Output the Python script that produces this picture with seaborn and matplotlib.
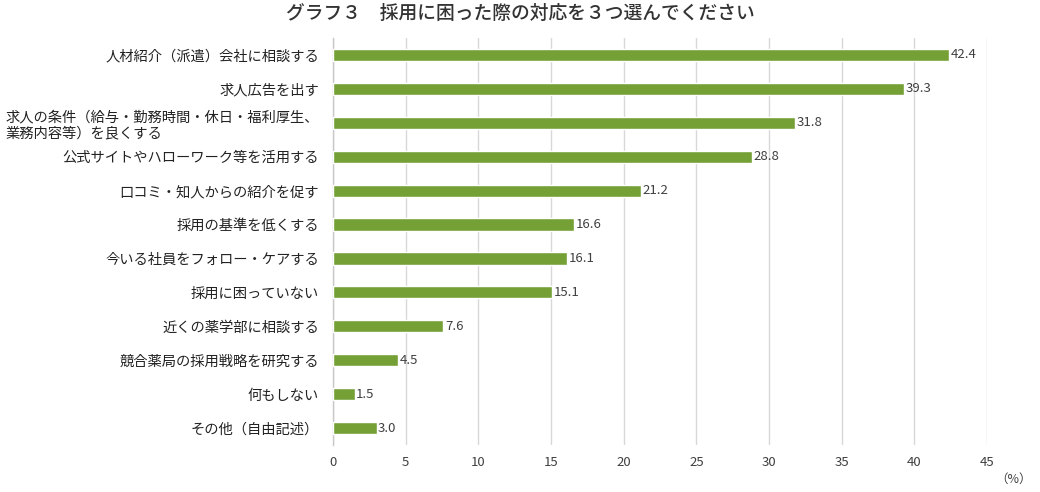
import matplotlib
matplotlib.use("Agg")
import matplotlib.pyplot as plt
import seaborn as sns
import pandas as pd

categories = [
    "人材紹介（派遣）会社に相談する",
    "求人広告を出す",
    "求人の条件（給与・勤務時間・休日・福利厚生、\n業務内容等）を良くする",
    "公式サイトやハローワーク等を活用する",
    "口コミ・知人からの紹介を促す",
    "採用の基準を低くする",
    "今いる社員をフォロー・ケアする",
    "採用に困っていない",
    "近くの薬学部に相談する",
    "競合薬局の採用戦略を研究する",
    "何もしない",
    "その他（自由記述）",
]
values = [42.4, 39.3, 31.8, 28.8, 21.2, 16.6, 16.1, 15.1, 7.6, 4.5, 1.5, 3.0]
value_labels = ["42.4", "39.3", "31.8", "28.8", "21.2", "16.6", "16.1", "15.1", "7.6", "4.5", "1.5", "3.0"]
xticks = [0, 5, 10, 15, 20, 25, 30, 35, 40, 45]
title = "グラフ３　採用に困った際の対応を３つ選んでください"

sns.set_theme(style="white")
plt.rcParams["font.family"] = ["Noto Sans CJK JP", "DejaVu Sans"]

df = pd.DataFrame({"cat": categories, "val": values})

fig = plt.figure(figsize=(10.4, 4.92), dpi=100)
ax = fig.add_axes([0.3202, 0.0955, 0.6288, 0.8273])

sns.barplot(data=df, y="cat", x="val", orient="h", color="#74a035",
            saturation=1, width=0.36, ax=ax, zorder=3)

ax.set_xlim(0, 45)
ax.set_ylim(len(categories) - 0.5, -0.5)
ax.set_xticks(xticks)
ax.set_xticklabels([str(t) for t in xticks], fontsize=9.5, color="#404040")
ax.xaxis.grid(True, color="#d8d8d8", linewidth=1, zorder=0)
ax.yaxis.grid(False)
for s in ["top", "right", "bottom"]:
    ax.spines[s].set_visible(False)
ax.spines["left"].set_color("#c8c8c8")
ax.spines["left"].set_linewidth(1)
ax.set_xlabel("")
ax.set_ylabel("")
ax.tick_params(axis="y", length=0, pad=10, labelsize=10.3, labelcolor="#222222")
ax.tick_params(axis="x", length=0, pad=8)
for lbl in ax.get_yticklabels():
    lbl.set_multialignment("left")
    lbl.set_linespacing(1.15)

for i, (v, t) in enumerate(zip(values, value_labels)):
    ax.text(v + 0.1, i, t, va="center", ha="left", fontsize=9.5, color="#404040")

fig.text(0.5, 0.972, title, ha="center", va="center", fontsize=13.5,
         color="#333333", fontweight="medium")
fig.text(0.992, 0.025, "（%）", ha="right", va="center", fontsize=9, color="#404040")

fig.savefig("out.png", dpi=100, facecolor="white")
